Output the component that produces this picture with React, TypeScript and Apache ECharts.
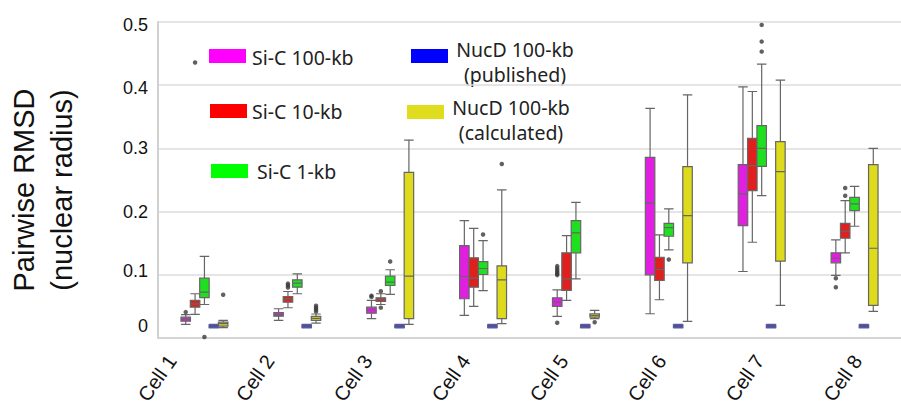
import React, { useEffect, useRef } from "react";
import * as echarts from "echarts";

// ---------- data ----------
const cells = ["Cell 1", "Cell 2", "Cell 3", "Cell 4", "Cell 5", "Cell 6", "Cell 7", "Cell 8"];
const seriesNames = ["Si-C 100-kb", "Si-C 10-kb", "Si-C 1-kb", "NucD 100-kb (published)", "NucD 100-kb (calculated)"];
const legendLines = [["Si-C 100-kb"], ["Si-C 10-kb"], ["Si-C 1-kb"], ["NucD 100-kb", "(published)"], ["NucD 100-kb", "(calculated)"]];
const yTickLabels = ["0", "0.1", "0.2", "0.3", "0.4", "0.5"];

// [min, Q1, median, Q3, max] per cell
const siC100kb = [
  [0.0215, 0.0267, 0.030, 0.033, 0.037],
  [0.0278, 0.0346, 0.037, 0.040, 0.0463],
  [0.0305, 0.0393, 0.0447, 0.0488, 0.0594],
  [0.0357, 0.0621, 0.0973, 0.1463, 0.1858],
  [0.0341, 0.050, 0.0567, 0.0637, 0.0763],
  [0.0384, 0.100, 0.2137, 0.2858, 0.3632],
  [0.1052, 0.1779, 0.228, 0.2743, 0.3975],
  [0.099, 0.119, 0.1262, 0.1348, 0.1553],
];
const siC10kb = [
  [0.0373, 0.0488, 0.054, 0.0594, 0.070],
  [0.0479, 0.0567, 0.0614, 0.0657, 0.0736],
  [0.053, 0.0578, 0.061, 0.0637, 0.070],
  [0.0499, 0.0804, 0.0946, 0.1269, 0.1736],
  [0.0594, 0.0752, 0.0937, 0.1348, 0.162],
  [0.0605, 0.091, 0.1084, 0.1278, 0.1632],
  [0.1515, 0.2332, 0.2727, 0.3158, 0.390],
  [0.1348, 0.1578, 0.1689, 0.1815, 0.2174],
];
const siC1kb = [
  [0.053, 0.064, 0.0725, 0.0946, 0.129],
  [0.070, 0.0804, 0.0867, 0.0921, 0.1016],
  [0.0689, 0.0831, 0.0883, 0.0978, 0.108],
  [0.075, 0.1005, 0.110, 0.121, 0.154],
  [0.0937, 0.1348, 0.1663, 0.1858, 0.2147],
  [0.1395, 0.161, 0.1747, 0.1815, 0.2043],
  [0.2253, 0.2716, 0.300, 0.3359, 0.4333],
  [0.1768, 0.2016, 0.2121, 0.2226, 0.240],
];
const nucDPublished = [
  [0.016, 0.0165, 0.0188, 0.021, 0.0215],
  [0.016, 0.0165, 0.0188, 0.021, 0.0215],
  [0.016, 0.0165, 0.0188, 0.021, 0.0215],
  [0.016, 0.0165, 0.0188, 0.021, 0.0215],
  [0.016, 0.0165, 0.0188, 0.021, 0.0215],
  [0.016, 0.0165, 0.0188, 0.021, 0.0215],
  [0.016, 0.0165, 0.0188, 0.021, 0.0215],
  [0.016, 0.0165, 0.0188, 0.021, 0.0215],
];
const nucDCalculated = [
  [0.0163, 0.0188, 0.0226, 0.0251, 0.0278],
  [0.0235, 0.0278, 0.031, 0.0341, 0.038],
  [0.0215, 0.0305, 0.0978, 0.262, 0.313],
  [0.0226, 0.0305, 0.0921, 0.1142, 0.2343],
  [0.0305, 0.033, 0.0357, 0.0384, 0.0436],
  [0.0262, 0.119, 0.1937, 0.2711, 0.3848],
  [0.0515, 0.1215, 0.2632, 0.3106, 0.408],
  [0.042, 0.0515, 0.142, 0.2743, 0.300],
];

// outliers: [cellIndex, value]
const outSiC100kb = [[0, 0.041], [2, 0.065], [2, 0.067], [4, 0.0242], [4, 0.0995], [4, 0.1016], [4, 0.104], [4, 0.107], [4, 0.110], [4, 0.1137], [7, 0.0946], [7, 0.0804]];
const outSiC10kb = [[0, 0.436], [1, 0.080], [1, 0.083], [1, 0.086], [2, 0.074], [2, 0.048], [7, 0.2374], [7, 0.225]];
const outSiC1kb = [[0, 0.0015], [2, 0.121], [3, 0.1637], [5, 0.1242], [6, 0.4954], [6, 0.469], [6, 0.4532]];
const outNucDPublished: number[][] = [];
const outNucDCalculated = [[0, 0.0684], [1, 0.042], [1, 0.045], [1, 0.048], [1, 0.051], [3, 0.2754], [4, 0.025]];

const boxData = [siC100kb, siC10kb, siC1kb, nucDPublished, nucDCalculated];
const outlierData = [outSiC100kb, outSiC10kb, outSiC1kb, outNucDPublished, outNucDCalculated];

// ---------- styles ----------
const boxColors = ["#e01fe0", "#e0201e", "#1fe01f", "#3434b8", "#dedb1c"];
const boxBorders = ["#666666", "#666666", "#666666", "#5a5a9a", "#666666"];
const legendColors = ["#ff00ff", "#ff0000", "#00ff00", "#0000ff", "#e0dc1e"];

export default function App() {
  const ref = useRef<HTMLDivElement>(null);
  useEffect(() => {
    document.body.style.margin = "0";
    if (!ref.current) return;
    const chart = echarts.init(ref.current, undefined, { renderer: "svg" });

    const gridLeft = 158;
    const gridWidth = 754;
    const gridTop = 22;
    const gridHeight = 316;
    const band = gridWidth / cells.length;
    const slotPx = [-19, -9.5, 0, 9.5, 19];

    // label axis: tick labels slightly offset from box groups as in the reference
    const labelStep = 99.4;
    const labelFirst = 172;
    const labelMin = 1 - (labelFirst - gridLeft) / labelStep;
    const labelMax = labelMin + gridWidth / labelStep;

    const xAxes: any[] = [
      {
        type: "value",
        gridIndex: 0,
        position: "bottom",
        min: labelMin,
        max: labelMax,
        axisLine: { show: true, onZero: false, lineStyle: { color: "#d4d4d4", width: 2 } },
        axisTick: { show: false },
        splitLine: { show: false },
        axisLabel: {
          customValues: cells.map((_, i) => i + 1),
          formatter: (v: number) => cells[Math.round(v) - 1] ?? "",
          rotate: 55,
          margin: 19,
          fontSize: 20,
          fontFamily: "Liberation Sans",
          color: "#111111",
        },
      },
    ];
    slotPx.forEach((px) => {
      const s = px / band;
      xAxes.push({
        type: "value",
        gridIndex: 0,
        position: "bottom",
        show: false,
        min: -0.5 - s,
        max: cells.length - 0.5 - s,
      });
    });

    const series: any[] = [];
    boxData.forEach((d, i) => {
      series.push({
        type: "boxplot",
        name: seriesNames[i],
        xAxisIndex: i + 1,
        yAxisIndex: 0,
        boxWidth: [9.5, 9.5],
        itemStyle: { color: boxColors[i], borderColor: boxBorders[i], borderWidth: 1.2 },
        data: d.map((v, j) => [j, ...v]),
        silent: true,
      });
      series.push({
        type: "scatter",
        name: seriesNames[i] + " outliers",
        xAxisIndex: i + 1,
        yAxisIndex: 0,
        symbol: "circle",
        symbolSize: 4.5,
        itemStyle: { color: "#3a3a3a" },
        data: outlierData[i],
        silent: true,
      });
    });

    const lab = { fontSize: 18, fontFamily: "Liberation Sans", color: "#111111" };
    const yRich: any = {
      z: { ...lab, padding: [0, 0, 24, 0] },
      u: { ...lab, padding: [0, 0, 7, 0] },
      n: { ...lab, padding: [0, 0, 0, 0] },
      d: { ...lab, padding: [6, 0, 0, 0] },
    };
    const yStyleKey = ["z", "u", "n", "n", "d", "d"];

    // legend built from the series names/colours
    const legendPos = [
      { rx: 209, ry: 49, tx: 252, ty: 57, center: false },
      { rx: 210, ry: 104, tx: 252, ty: 111, center: false },
      { rx: 211, ry: 164, tx: 257, ty: 171, center: false },
      { rx: 411, ry: 49, tx: 515, ty: 49.5, center: true },
      { rx: 407, ry: 105, tx: 511, ty: 107.5, center: true },
    ];
    const graphic: any[] = [];
    legendPos.forEach((p, i) => {
      graphic.push({
        type: "rect",
        shape: { x: p.rx, y: p.ry, width: 37, height: 14 },
        style: { fill: legendColors[i] },
        silent: true,
      });
      legendLines[i].forEach((line, k) => {
        graphic.push({
          type: "text",
          x: p.tx,
          y: p.ty + k * 25,
          style: {
            text: line,
            fontSize: 19.5,
            fontFamily: "Noto Sans",
            fill: "#222222",
            align: p.center ? "center" : "left",
            textAlign: p.center ? "center" : "left",
            verticalAlign: "middle",
            textVerticalAlign: "middle",
          },
          silent: true,
        });
      });
    });
    graphic.push({
      type: "text",
      x: 43,
      y: 190,
      rotation: Math.PI / 2,
      style: {
        text: "Pairwise RMSD\n(nuclear radius)",
        fontSize: 29,
        fontFamily: "Liberation Sans",
        fill: "#111111",
        lineHeight: 38,
        align: "center",
        textAlign: "center",
        verticalAlign: "middle",
        textVerticalAlign: "middle",
      },
      silent: true,
    });

    chart.setOption({
      animation: false,
      backgroundColor: "#ffffff",
      grid: { left: gridLeft, top: gridTop, width: gridWidth, height: gridHeight },
      xAxis: xAxes,
      yAxis: {
        type: "value",
        min: 0,
        max: 0.5,
        interval: 0.1,
        axisLine: { show: true, onZero: false, lineStyle: { color: "#d0d0d0", width: 2 } },
        axisTick: { show: false },
        splitLine: { show: true, lineStyle: { color: "#dcdcdc", width: 1.5 } },
        axisLabel: {
          margin: 10,
          ...lab,
          formatter: (v: number) => {
            const k = Math.round(v * 10);
            return `{${yStyleKey[k]}|${yTickLabels[k]}}`;
          },
          rich: yRich,
        },
      },
      series,
      graphic,
    });
    return () => chart.dispose();
  }, []);
  return <div ref={ref} style={{ width: 901, height: 411 }} />;
}
